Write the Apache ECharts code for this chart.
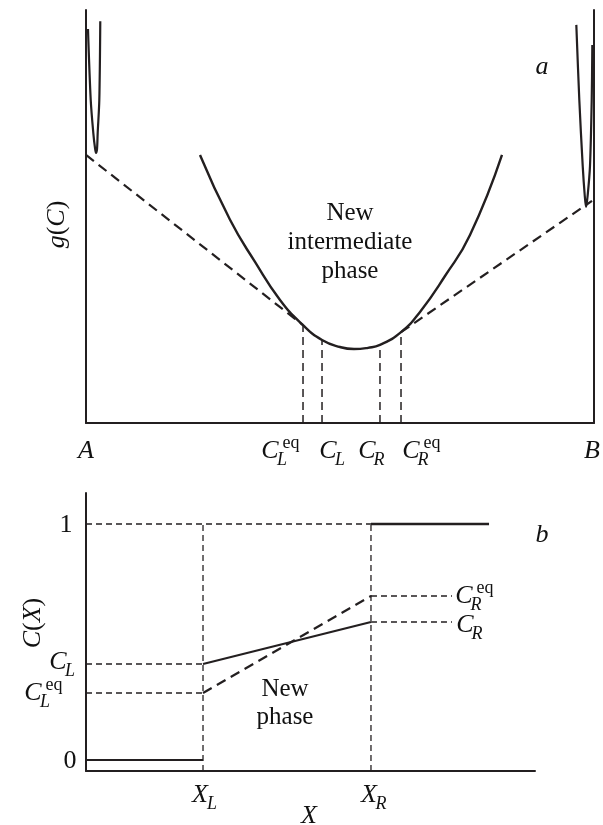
<!DOCTYPE html>
<html><head><meta charset="utf-8">
<script src="https://cdn.jsdelivr.net/npm/echarts@6/dist/echarts.min.js"></script>
<style>html,body{margin:0;padding:0;background:#fff}#c{width:603px;height:825px}</style>
</head><body><div id="c"></div>
<script>
// ---------- Panel a : free energy g(C), composition from A (0) to B (1) ----------
const leftWell = [[0.0039,9.54],[0.0093,7.82],[0.0144,7.02],[0.0177,6.66],[0.0197,6.54],[0.0217,6.63],[0.0230,7.02],[0.0262,7.82],[0.0281,9.73]];
const rightWell = [[0.9652,9.64],[0.9711,7.82],[0.9778,6.22],[0.9817,5.52],[0.9843,5.23],[0.9876,5.52],[0.9921,6.22],[0.9955,7.82],[0.9967,9.15]];
const newPhaseG = [[0.2244,6.49],[0.2835,4.92],[0.3327,3.90],[0.3819,2.98],[0.4272,2.37],[0.4646,2.01],[0.5000,1.84],[0.5276,1.79],[0.5551,1.82],[0.5787,1.89],[0.6201,2.20],[0.6575,2.69],[0.7067,3.56],[0.7559,4.55],[0.8189,6.49]];
const tangentLeft = [[0,6.49],[0.4272,2.37]];
const tangentRight = [[0.6201,2.20],[0.9961,5.38]];
const compNames = ['C_L^eq','C_L','C_R','C_R^eq'];
const compX = [0.4272,0.4646,0.5787,0.6201];
const compG = [2.37,2.01,1.89,2.20];

// ---------- Panel b : concentration profile C(X) ----------
const XL = 0.2606, XR = 0.6347, Xend = 0.8976, XlabEnd = 0.8151;
const CL = 0.4068, CLeq = 0.2839, CR = 0.5847, CReq = 0.6949;
const yTicks = ['0','1'];

const INK = '#231f20';
const TXT = '#111';
const FONT = "'Liberation Serif','Times New Roman',serif";

function txt(x, y, text, dx, dy, opt) {
  opt = opt || {};
  return {value:[x,y], label:{show:true, position:'inside', offset:[dx,dy], formatter:text,
    color:TXT, opacity:1, fontFamily:FONT, fontSize:opt.size||26, fontStyle:opt.italic===false?'normal':'italic',
    align:'center', verticalAlign:'middle', lineHeight:opt.lh||undefined, rotate:opt.rotate||0, rich:opt.rich||undefined}};
}
function sym(x, y, name, dx, dy) {
  const base = name[0];
  const m = name.slice(2).split('^');
  const out = [txt(x,y,base,dx,dy)];
  out.push(txt(x,y,m[0],dx+12,dy+9,{size:18}));
  if (m[1]) out.push(txt(x,y,m[1],dx+21,dy-8,{size:18,italic:false}));
  return out;
}
function line(data, panel, w, dash, smooth) {
  return {type:'line', xAxisIndex:panel, yAxisIndex:panel===0?0:2, data:data, symbol:'none',
    smooth:smooth||false, silent:true, animation:false,
    lineStyle:{color:INK, width:w, type:dash||'solid', cap:'butt'}};
}
const thinDash = [6,4], thickDash = [10,6];

const series = [];
// panel a curves
series.push(line(leftWell,0,2.2,null,0.3));
series.push(line(rightWell,0,2.2,null,0.3));
series.push(line(newPhaseG,0,2.4,null,true));
series.push(line(tangentLeft,0,2.2,thickDash));
series.push(line(tangentRight,0,2.2,thickDash));
compX.forEach((x,i)=>series.push(line([[x,0],[x,compG[i]]],0,1.5,[8,5])));
// panel b lines
const yMinB = -0.0466;
series.push(line([[0,0],[XL,0]],1,2.2));
series.push(line([[XR,1],[Xend,1]],1,2.6));
series.push(line([[XL,CL],[XR,CR]],1,2.2));
series.push(line([[XL,CLeq],[XR,CReq]],1,2.2,thickDash));
series.push(line([[0,1],[XR,1]],1,1.3,thinDash));
series.push(line([[XL,yMinB],[XL,1]],1,1.3,thinDash));
series.push(line([[XR,yMinB],[XR,1]],1,1.3,thinDash));
series.push(line([[0,CL],[XL,CL]],1,1.3,thinDash));
series.push(line([[0,CLeq],[XL,CLeq]],1,1.3,thinDash));
series.push(line([[XR,CReq],[XlabEnd,CReq]],1,1.3,thinDash));
series.push(line([[XR,CR],[XlabEnd,CR]],1,1.3,thinDash));

const richMix = {
  i:{fontFamily:FONT,fontStyle:'italic',fontSize:26,color:TXT},
  n:{fontFamily:FONT,fontStyle:'normal',fontSize:26,color:TXT}};

// text labels panel a
const labA = [];
labA.push(txt(0,0,'A',0,28));
labA.push(txt(1,0,'B',-2,28));
const compDx = [-33,6,-13,10];
compNames.forEach((n,i)=>labA.push(...sym(compX[i],0,n,compDx[i],28)));
labA.push(txt(1,10,'a',-52,57));
// rotated label: offset is expressed in the rotated frame
labA.push(txt(0,5,'{i|g}{n|(}{i|C}{n|)}',-8,-29,{rotate:90,rich:richMix}));
labA.push(txt(0.5,5,'New\nintermediate\nphase',10,26,{size:25,italic:false,lh:29}));
series.push({type:'scatter',xAxisIndex:0,yAxisIndex:0,symbolSize:1,silent:true,clip:false,
  itemStyle:{color:'rgba(0,0,0,0)',opacity:1},data:labA});

// text labels panel b
const labB = [];
labB.push(txt(0,0,yTicks[0],-16,1,{italic:false}));
labB.push(txt(0,1,yTicks[1],-20,1,{italic:false}));
labB.push(...sym(0,CL,'C_L',-28,-2));
labB.push(...sym(0,CLeq,'C_L^eq',-53,0));
labB.push(...sym(XlabEnd,CReq,'C_R^eq',12,0));
labB.push(...sym(XlabEnd,CR,'C_R',13,3));
labB.push(...sym(XL,yMinB,'X_L',-3,24));
labB.push(...sym(XR,yMinB,'X_R',-2,24));
labB.push(txt(0,yMinB,'X',223,45));
labB.push(txt(0,0.5,'{i|C}{n|(}{i|X}{n|)}',19,-53,{rotate:90,rich:richMix}));
labB.push(txt(1,1,'b',7,11));
labB.push(txt(XL,CLeq,'New\nphase',82,10,{size:25,italic:false,lh:28}));
series.push({type:'scatter',xAxisIndex:1,yAxisIndex:2,symbolSize:1,silent:true,clip:false,
  itemStyle:{color:'rgba(0,0,0,0)',opacity:1},data:labB});

const axisBase = {type:'value', axisTick:{show:false}, axisLabel:{show:false}, splitLine:{show:false},
  axisLine:{show:true, onZero:false, lineStyle:{color:INK, width:2}}};
const option = {
  animation:false,
  backgroundColor:'#fff',
  grid:[{left:86,right:9,top:10,bottom:402},{left:86,right:68,top:493,bottom:54}],
  xAxis:[Object.assign({gridIndex:0,min:0,max:1},axisBase),
         Object.assign({gridIndex:1,min:0,max:1},axisBase)],
  yAxis:[Object.assign({gridIndex:0,min:0,max:10,position:'left'},axisBase),
         Object.assign({gridIndex:0,min:0,max:10,position:'right'},axisBase),
         Object.assign({gridIndex:1,min:yMinB,max:1.1314,position:'left'},axisBase)],
  series:series
};
const chart = echarts.init(document.getElementById('c'),null,{renderer:'canvas'});
chart.setOption(option);
</script></body></html>
